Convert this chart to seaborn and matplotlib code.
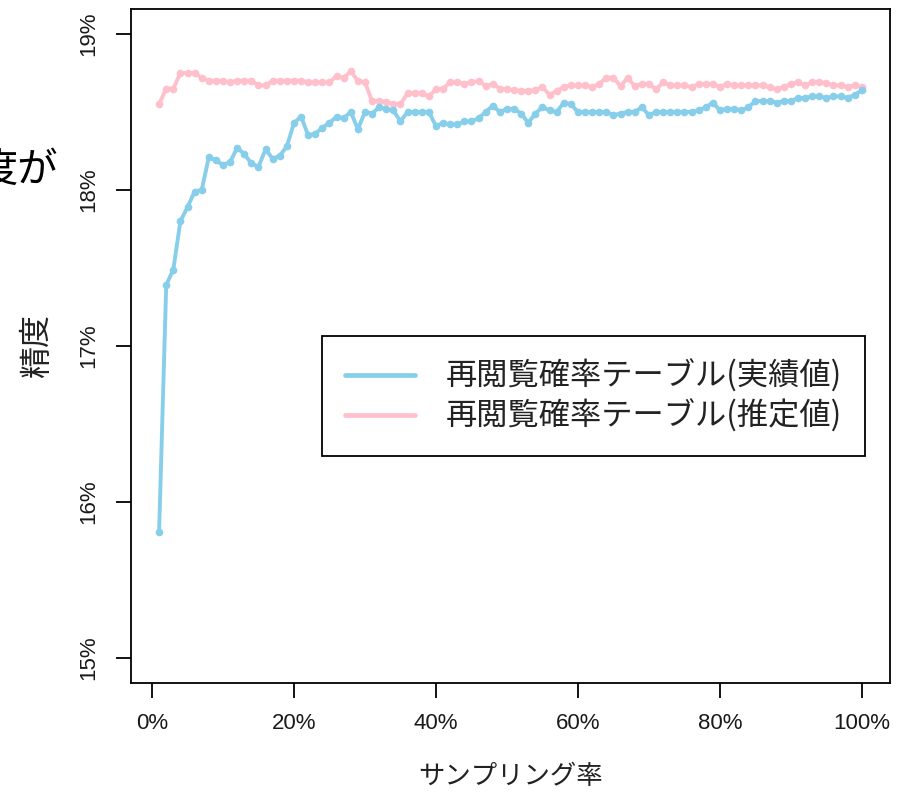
import numpy as np
import pandas as pd
import matplotlib
matplotlib.use("Agg")
import matplotlib.pyplot as plt
from matplotlib.lines import Line2D
import seaborn as sns

# Sampling rate (%) and accuracy (%) of the two re-view probability tables
sampling_rate = np.arange(1, 101)

actual = [
    15.81, 17.39, 17.49, 17.80, 17.89, 17.99, 18.00, 18.21, 18.19, 18.16,
    18.18, 18.27, 18.23, 18.17, 18.15, 18.26, 18.20, 18.22, 18.28, 18.43,
    18.47, 18.35, 18.36, 18.40, 18.43, 18.47, 18.46, 18.50, 18.39, 18.50,
    18.49, 18.53, 18.52, 18.51, 18.44, 18.50, 18.50, 18.50, 18.50, 18.41,
    18.43, 18.42, 18.42, 18.44, 18.44, 18.46, 18.50, 18.54, 18.50, 18.52,
    18.52, 18.49, 18.43, 18.49, 18.53, 18.51, 18.50, 18.56, 18.55, 18.50,
    18.50, 18.50, 18.50, 18.50, 18.48, 18.49, 18.50, 18.50, 18.53, 18.48,
    18.50, 18.50, 18.50, 18.50, 18.50, 18.50, 18.51, 18.53, 18.56, 18.51,
    18.52, 18.52, 18.51, 18.53, 18.57, 18.57, 18.57, 18.56, 18.57, 18.57,
    18.59, 18.59, 18.60, 18.60, 18.59, 18.60, 18.60, 18.59, 18.61, 18.64,
]

estimated = [
    18.55, 18.65, 18.65, 18.75, 18.75, 18.75, 18.72, 18.70, 18.70, 18.70,
    18.69, 18.70, 18.70, 18.70, 18.67, 18.67, 18.70, 18.70, 18.70, 18.70,
    18.70, 18.69, 18.69, 18.69, 18.69, 18.73, 18.72, 18.76, 18.70, 18.69,
    18.57, 18.57, 18.565, 18.55, 18.55, 18.62, 18.62, 18.62, 18.60, 18.645,
    18.65, 18.69, 18.69, 18.68, 18.69, 18.70, 18.665, 18.68, 18.65, 18.645,
    18.64, 18.635, 18.635, 18.64, 18.66, 18.61, 18.635, 18.66, 18.67, 18.67,
    18.67, 18.66, 18.68, 18.72, 18.72, 18.665, 18.72, 18.665, 18.68, 18.68,
    18.645, 18.69, 18.67, 18.67, 18.67, 18.66, 18.68, 18.68, 18.68, 18.66,
    18.68, 18.67, 18.67, 18.67, 18.67, 18.67, 18.66, 18.645, 18.66, 18.68,
    18.69, 18.67, 18.69, 18.69, 18.685, 18.67, 18.67, 18.66, 18.67, 18.66,
]

series_names = ["再閲覧確率テーブル(実績値)", "再閲覧確率テーブル(推定値)"]
series_colors = ["skyblue", "pink"]

x_ticks = [0, 20, 40, 60, 80, 100]
x_tick_labels = ["0%", "20%", "40%", "60%", "80%", "100%"]
y_ticks = [15, 16, 17, 18, 19]
y_tick_labels = ["15%", "16%", "17%", "18%", "19%"]

df = pd.DataFrame({
    "rate": np.concatenate([sampling_rate, sampling_rate]),
    "accuracy": actual + estimated,
    "series": [series_names[0]] * len(actual) + [series_names[1]] * len(estimated),
})

sns.set_theme(style="ticks")
plt.rcParams["font.family"] = ["Liberation Sans", "Noto Sans CJK JP", "DejaVu Sans"]
cjk = "Noto Sans CJK JP"

W, H = 905, 793
fig = plt.figure(figsize=(W / 100, H / 100), dpi=100)
fig.patch.set_facecolor("white")
ax = fig.add_axes([131 / W, 1 - 683 / H, 759 / W, 674 / H])

palette = dict(zip(series_names, series_colors))
sns.lineplot(
    data=df, x="rate", y="accuracy", hue="series",
    hue_order=[series_names[1], series_names[0]], palette=palette,
    marker="o", markersize=5.5, markeredgewidth=0, linewidth=2.8,
    estimator=None, sort=False, legend=False, ax=ax,
)

# R-style axis ranges: data range padded by 4% on each side
ax.set_xlim(1 - 0.04 * 99, 100 + 0.04 * 99)
ax.set_ylim(15 - 0.04 * 4, 19 + 0.04 * 4)
ax.set_xticks(x_ticks)
ax.set_xticklabels(x_tick_labels)
ax.set_yticks(y_ticks)
ax.set_yticklabels(y_tick_labels, rotation=90, va="center")
ax.tick_params(axis="both", direction="out", length=10.8, width=1.3,
               colors="black", labelsize=16, labelcolor="#1a1a1a")
ax.tick_params(axis="x", pad=11)
ax.tick_params(axis="y", pad=12)
for sp in ax.spines.values():
    sp.set_visible(True)
    sp.set_color("black")
    sp.set_linewidth(1.3)
ax.grid(False)
ax.set_facecolor("white")

ax.set_xlabel("サンプリング率", fontsize=19, family=cjk, color="#222222")
ax.xaxis.set_label_coords(0.5, (683 - 777) / 674)
ax.xaxis.label.set_va("center")
ax.set_ylabel("精度", fontsize=23, family=cjk, color="#222222")
ax.yaxis.set_label_coords((37 - 131) / 759, 0.5)
ax.yaxis.label.set_va("center")

handles = [Line2D([], [], color=c, linewidth=3.4) for c in series_colors]
leg = ax.legend(
    handles, series_names,
    loc="lower right", bbox_to_anchor=(865 / W, 1 - 456 / H),
    bbox_transform=fig.transFigure, borderaxespad=0,
    frameon=True, fancybox=False, framealpha=1, edgecolor="black",
    prop={"family": cjk, "size": 22.5},
    handlelength=2.24, handletextpad=0.96, labelspacing=0.2, borderpad=0.75,
)
leg.get_frame().set_linewidth(1.3)
for t in leg.get_texts():
    t.set_color("#222222")

# Slide heading text cut off at the left edge
fig.text(-22 / W, 1 - 170 / H, "度が", fontsize=29, family=cjk,
         ha="left", va="center", color="black")

fig.savefig("out.png", dpi=100, facecolor="white")
